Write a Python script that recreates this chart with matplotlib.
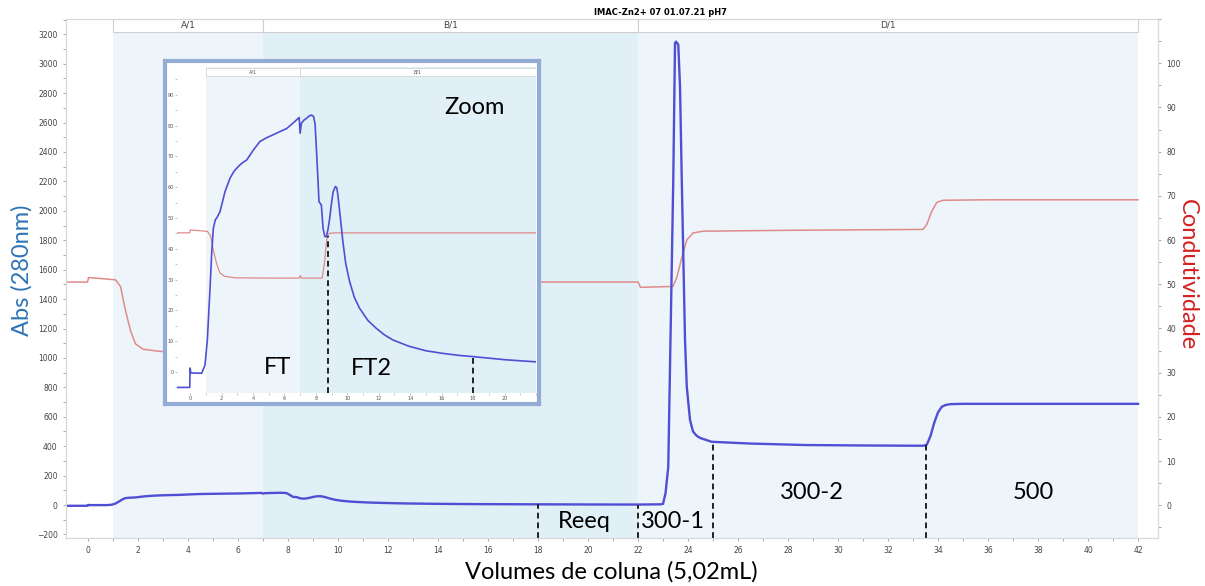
import matplotlib
matplotlib.use("Agg")
import matplotlib.pyplot as plt
from matplotlib.patches import Rectangle
from matplotlib.ticker import MultipleLocator

# run data (column volumes, 5,02 mL)
volume = [-0.88, -0.02, 0.0, 0.05, 0.74, 0.95, 1.1, 1.27, 1.38, 1.48, 1.6, 1.74, 1.9, 2.05,
          2.22, 2.54, 2.8, 3.07, 3.3, 3.6, 4.02, 4.44, 4.85, 5.29, 5.7, 6.14, 6.55, 6.94, 7.0,
          7.08, 7.25, 7.4, 7.55, 7.7, 7.85, 7.95, 8.05, 8.2, 8.35, 8.46, 8.57, 8.67, 8.78,
          8.88, 9.0, 9.1, 9.24, 9.33, 9.4, 9.55, 9.72, 9.9, 10.15, 10.45, 10.78, 11.3, 11.84,
          12.35, 12.9, 13.9, 15.0, 16.0, 17.1, 18.0, 20.0, 22.0,
          22.9, 23.0, 23.1, 23.21, 23.41, 23.48, 23.52, 23.61, 23.68, 23.75, 23.88, 23.95,
          24.08, 24.2, 24.35, 24.5, 24.95, 26.5, 28.7, 31.0, 33.4, 33.55, 33.7, 33.85, 34.0,
          34.15, 34.3, 34.5, 35.0, 38.0, 42.0]
abs280 = [-5, -5, 1.3, -0.3, -0.4, 2.3, 10.5, 27.2, 39.0, 46.6, 49.3, 50.4, 52, 55.0,
          58.5, 62.9, 65.2, 66.7, 67.8, 68.8, 72, 74.8, 76.0, 77, 78.0, 79, 80.8, 82.6, 77.5,
          80.7, 81.8, 82.3, 83.0, 83.4, 83, 80.5, 71.0, 55.3, 54.2, 46.6, 44.0, 43.9, 46.5,
          49.9, 55.0, 58.5, 60.2, 59.8, 57.5, 50.5, 42.3, 35.2, 29.3, 24.2, 20.7, 16.8, 14.2,
          12.1, 10.4, 8.4, 6.9, 6.1, 5.4, 5.0, 4.0, 3.3,
          5, 8, 80, 260, 2210, 3140, 3150, 3130, 2845, 2210, 1122, 805,
          578, 500, 470, 455, 430, 418, 408, 405, 403, 410, 470, 560, 630,
          668, 680, 686, 688, 688, 688]

vol_cond = [-0.88, -0.02, 0.02, 0.5, 1.1, 1.3, 1.5, 1.7, 1.9, 2.2, 2.9, 5.0, 6.95, 7.0, 7.1,
            8.4, 8.55, 8.7, 8.85, 9.2, 15.0, 22.0, 22.1, 23.4, 23.55, 23.75, 23.95, 24.2,
            24.6, 28.0, 33.4, 33.55, 33.75, 33.95, 34.2, 36.0, 42.0]
cond = [50.5, 50.5, 51.5, 51.3, 51.0, 49.5, 44.0, 39.5, 36.5, 35.3, 34.8, 34.7, 34.7, 35.6, 34.7,
        34.7, 40.0, 48.5, 50.3, 50.5, 50.5, 50.5, 49.3, 49.5, 51.5, 56.0, 60.0, 61.6,
        62.0, 62.2, 62.4, 63.5, 66.5, 68.5, 69.0, 69.1, 69.1]

# method blocks
blocks = [(1, 7, "A/1"), (7, 22, "B/1"), (22, 42, "D/1")]
block_colors = ["#eef5fa", "#e1eff7", "#eef5fa"]

# fractions
cuts = [18, 22, 25, 33.5]
cut_tops = [5, 3.3, 430, 405]
frac_names = ["Reeq", "300-1", "300-2", "500"]
frac_x = [19.84, 23.4, 28.96, 37.8]
frac_y = [-109, -109, 88, 88]

inset_cuts = [8.75, 18]
inset_tops = [44, 5]
inset_names = ["FT", "FT2", "Zoom"]
inset_name_x = [5.59, 11.56, 18.1]
inset_name_y = [1.6, 1.3, 86]

blue = "#4f4fd4"
red = "#e08a8a"

fig = plt.figure(figsize=(12.05, 5.86), dpi=100)

ax = fig.add_axes([0.0548, 0.0819, 0.9062, 0.8857])
ax2 = ax.twinx()
ax.set_xlim(-0.88, 42.8)
ax.set_ylim(-224, 3304)
ax2.set_ylim(-7.4, 110)

for (x0, x1, name), c in zip(blocks, block_colors):
    ax.axvspan(x0, x1, color=c, lw=0, zorder=0)
    ax.add_patch(Rectangle((x0, 0.975), x1 - x0, 0.025, transform=ax.get_xaxis_transform(),
                           fc="white", ec="#cfcfcf", lw=0.8, zorder=1, clip_on=False))
    ax.text((x0 + x1) / 2, 0.9875, name, transform=ax.get_xaxis_transform(),
            ha="center", va="center", fontsize=6.5, color="#444444", zorder=2)

ax.plot(vol_cond, cond, color=red, lw=1.1, transform=ax2.transData, zorder=2)
ax.plot(volume, abs280, color=blue, lw=1.7, zorder=3)

for x, top in zip(cuts, cut_tops):
    ax.plot([x, x], [-224, top], color="#222222", lw=1.4, ls=(0, (3, 2)), zorder=4)
for name, x, y in zip(frac_names, frac_x, frac_y):
    ax.text(x, y, name, ha="center", va="center", fontsize=17, family="Lato", zorder=5)

ax.xaxis.set_major_locator(MultipleLocator(2))
ax.xaxis.set_minor_locator(MultipleLocator(1))
ax.yaxis.set_major_locator(MultipleLocator(200))
ax.yaxis.set_minor_locator(MultipleLocator(100))
ax2.yaxis.set_major_locator(MultipleLocator(10))
ax2.yaxis.set_minor_locator(MultipleLocator(5))
for a in (ax, ax2):
    a.tick_params(which="both", labelsize=5.5, colors="#999999", labelcolor="#444444",
                  length=2.5, width=0.6)
    for s in a.spines.values():
        s.set_color("#d8d8d8")
        s.set_linewidth(0.8)
ax.set_yticks(range(-200, 3201, 200))
ax2.set_yticks(range(0, 101, 10))

fig.text(0.548, 0.978, "IMAC-Zn2+ 07 01.07.21 pH7", ha="center", va="center",
         fontsize=6, fontweight="bold")
fig.text(0.0183, 0.538, "Abs (280nm)", rotation=90, ha="center", va="center",
         fontsize=17, color="#2e75b6", family="Lato")
fig.text(0.985, 0.531, "Condutividade", rotation=270, ha="center", va="center",
         fontsize=17, color="#d42020", family="Lato")
fig.text(0.507, 0.024, "Volumes de coluna (5,02mL)", ha="center", va="center",
         fontsize=17, family="Lato")

# zoom inset
frame = fig.add_axes([0.1369, 0.3106, 0.3104, 0.5853], zorder=5)
frame.set_xticks([])
frame.set_yticks([])
for s in frame.spines.values():
    s.set_color("#93acd3")
    s.set_linewidth(3)

ins_rect = [0.1469, 0.3294, 0.2979, 0.5563]
ins = fig.add_axes(ins_rect, zorder=6)
ins_c = fig.add_axes(ins_rect, zorder=1)
ins_c.set_visible(False)
ins.set_xlim(-0.83, 22.0)
ins.set_ylim(-6.8, 99)
ins_c.set_xlim(-0.83, 22.0)
ins_c.set_ylim(-5.4, 108.4)

for (x0, x1, name), c in zip(blocks[:2], block_colors[:2]):
    ins.axvspan(x0, x1, color=c, lw=0, zorder=0)
    ins.add_patch(Rectangle((x0, 0.972), x1 - x0, 0.025, transform=ins.get_xaxis_transform(),
                            fc="white", ec="#d5d5d5", lw=0.6, zorder=1))
    ins.text((x0 + min(x1, 22)) / 2, 0.985, name, transform=ins.get_xaxis_transform(),
             ha="center", va="center", fontsize=3.5, color="#555555", zorder=2)

ins.plot(vol_cond, cond, color=red, lw=0.9, transform=ins_c.transData, zorder=2)
ins.plot(volume, abs280, color=blue, lw=1.2, zorder=3)
for x, top in zip(inset_cuts, inset_tops):
    ins.plot([x, x], [-6.8, top], color="#222222", lw=1.4, ls=(0, (3, 2)), zorder=4)
for name, x, y in zip(inset_names, inset_name_x, inset_name_y):
    ins.text(x, y, name, ha="center", va="center", fontsize=17, family="Lato", zorder=5)

ins.set_xticks(range(0, 21, 2))
ins.xaxis.set_minor_locator(MultipleLocator(1))
ins.set_yticks(range(0, 91, 10))
ins.yaxis.set_minor_locator(MultipleLocator(5))
ins.tick_params(which="both", labelsize=3.5, colors="#aaaaaa", labelcolor="#555555",
                length=1.5, width=0.5, pad=1)
for s in ins.spines.values():
    s.set_visible(False)

fig.savefig("out.png", dpi=100)
